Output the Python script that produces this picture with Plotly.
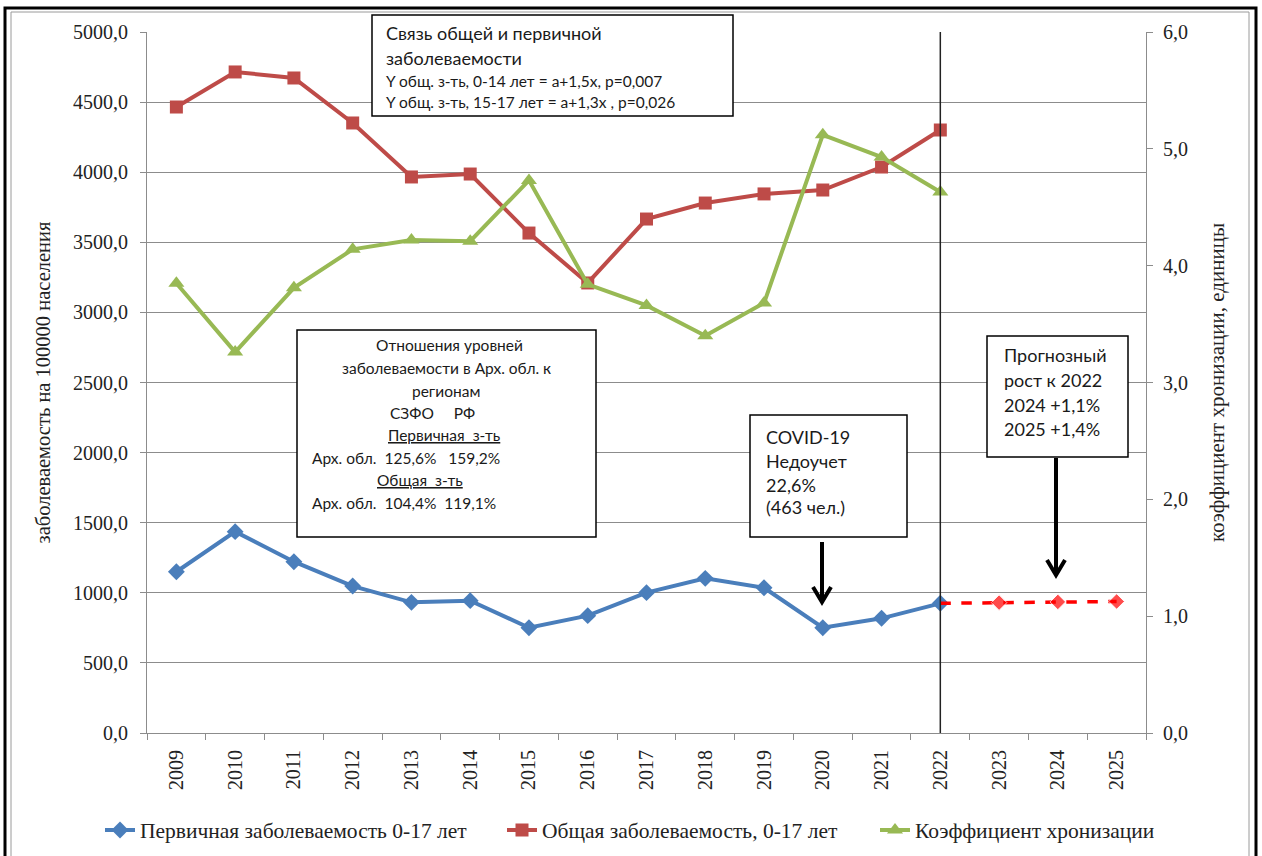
import plotly.graph_objects as go

# ---------------- data ----------------
years = [str(y) for y in range(2009, 2026)]
obs_years = years[:14]                       # 2009..2022
primary = [1150, 1436, 1222, 1048, 932, 944, 751, 837, 1001, 1103, 1036, 751, 818, 925]
general = [4465, 4715, 4672, 4351, 3966, 3987, 3566, 3210, 3666, 3780, 3845, 3873, 4037, 4301]
chron = [3.85, 3.26, 3.81, 4.14, 4.22, 4.21, 4.73, 3.84, 3.66, 3.40, 3.68, 5.12, 4.93, 4.63]
fc_years = ["2022", "2023", "2024", "2025"]
forecast = [925, 930, 935, 938]

name_primary = "Первичная заболеваемость 0-17 лет"
name_general = "Общая заболеваемость, 0-17 лет"
name_chron = "Коэффициент хронизации"

# ---------------- layout helpers ----------------
W, H = 1262, 856
L, R, T, B = 147, 1146, 32, 733


def PX(x):
    return (x - L) / (R - L)


def PY(y):
    return (B - y) / (B - T)


SERIF = "Liberation Serif"
SANS = "Lato"
GRID = "#8c8c8c"

fig = go.Figure()
fig.add_trace(go.Scatter(
    x=obs_years, y=primary, name=name_primary, mode="lines+markers", legend="legend",
    line=dict(color="#4A7EBB", width=4),
    marker=dict(symbol="diamond", size=13, color="#4A7EBB")))
fig.add_trace(go.Scatter(
    x=obs_years, y=general, name=name_general, mode="lines+markers", legend="legend2",
    line=dict(color="#BE4B48", width=4),
    marker=dict(symbol="square", size=13, color="#BE4B48")))
fig.add_trace(go.Scatter(
    x=obs_years, y=chron, name=name_chron, mode="lines+markers", yaxis="y2", legend="legend3",
    line=dict(color="#98B954", width=4),
    marker=dict(symbol="triangle-up", size=14, color="#98B954")))
fig.add_trace(go.Scatter(
    x=fc_years, y=forecast, mode="lines+markers", showlegend=False,
    line=dict(color="#FF0000", width=3.5, dash="dash"),
    marker=dict(symbol="diamond", size=[0, 12, 12, 12], color="#FF0000")))

shapes = []
# vertical separator at 2022
shapes.append(dict(type="line", xref="x", yref="paper",
                   x0=years.index("2022"), x1=years.index("2022"), y0=0, y1=1,
                   line=dict(color="#222222", width=1.5)))
# frame
shapes.append(dict(type="rect", xref="paper", yref="paper",
                   x0=PX(11), x1=PX(1249), y0=PY(866), y1=PY(12),
                   line=dict(color="#9a9a9a", width=1)))
shapes.append(dict(type="rect", xref="paper", yref="paper",
                   x0=PX(5), x1=PX(1256), y0=PY(880), y1=PY(8),
                   line=dict(color="#000000", width=3)))

# annotation boxes
boxes = [(372, 15, 733, 116), (297, 330, 596, 537), (750, 415, 907, 537), (987, 336, 1128, 457)]
for x0, y0, x1, y1 in boxes:
    shapes.append(dict(type="rect", xref="paper", yref="paper", layer="above",
                       x0=PX(x0), x1=PX(x1), y0=PY(y1), y1=PY(y0),
                       fillcolor="white", line=dict(color="#000000", width=1.5)))


def arrow(x, ytop, ytip):
    return dict(type="path", xref="paper", yref="paper", layer="above",
                path=(f"M {PX(x)},{PY(ytop)} L {PX(x)},{PY(ytip)} "
                      f"M {PX(x-9)},{PY(ytip-15)} L {PX(x)},{PY(ytip)} L {PX(x+9)},{PY(ytip-15)}"),
                line=dict(color="#000000", width=4))


shapes.append(arrow(822, 542, 602))
shapes.append(arrow(1056, 458, 575))

ann = []


def txt(text, x, y, size, anchor="left"):
    ann.append(dict(xref="paper", yref="paper", x=PX(x), y=PY(y), text=text,
                    xanchor=anchor, yanchor="middle", showarrow=False,
                    font=dict(family=SANS, size=size, color="#1a1a1a")))


# top box
txt("Связь общей и первичной", 384, 33, 18)
txt("заболеваемости", 384, 58, 18)
txt("Y общ. з-ть, 0-14 лет = a+1,5x, p=0,007", 384, 81, 15.5)
txt("Y общ. з-ть, 15-17 лет = a+1,3x , p=0,026", 384, 102, 15.5)
# middle box
txt("Отношения уровней", 449, 345, 15.5, "center")
txt("заболеваемости в Арх. обл. к", 446, 368, 15.5, "center")
txt("регионам", 446, 391, 15.5, "center")
txt("СЗФО&nbsp;&nbsp;&nbsp;&nbsp;&nbsp;РФ", 432, 413, 15.5, "center")
txt("<u>Первичная&nbsp;&nbsp;з-ть</u>", 444, 435, 15.5, "center")
txt("Арх. обл.&nbsp;&nbsp;125,6%&nbsp;&nbsp;&nbsp;159,2%", 310, 458, 15.5)
txt("<u>Общая&nbsp;&nbsp;з-ть</u>", 420, 480, 15.5, "center")
txt("Арх. обл.&nbsp;&nbsp;104,4%&nbsp;&nbsp;119,1%", 310, 503, 15.5)
# covid box
txt("COVID-19", 764, 437, 18)
txt("Недоучет", 764, 461, 18)
txt("22,6%", 764, 485, 18)
txt("(463 чел.)", 764, 507, 18)
# forecast box
txt("Прогнозный", 1002, 355, 18)
txt("рост к 2022", 1002, 380, 18)
txt("2024 +1,1%", 1002, 405, 18)
txt("2025 +1,4%", 1002, 429, 18)


def legend_at(xpix):
    return dict(orientation="h", xref="container", yref="container",
                x=xpix / W, y=1 - 830 / H, xanchor="left", yanchor="middle",
                font=dict(family=SERIF, size=21.5, color="#222222"),
                itemwidth=30, bgcolor="rgba(0,0,0,0)")


fig.update_layout(
    width=W, height=H,
    margin=dict(l=L, r=W - R, t=T, b=H - B),
    paper_bgcolor="white", plot_bgcolor="white",
    separators=", ",
    font=dict(family=SERIF, size=20, color="#222222"),
    showlegend=True,
    legend=legend_at(100),
    legend2=legend_at(502),
    legend3=legend_at(875),
    xaxis=dict(type="category", categoryorder="array", categoryarray=years,
               range=[-0.5, len(years) - 0.5], tickangle=-90,
               showline=True, linecolor=GRID, linewidth=1,
               ticks="outside", tickson="boundaries", ticklen=6, tickcolor=GRID,
               ticklabelstandoff=8,
               showgrid=False, tickfont=dict(family=SERIF, size=20)),
    yaxis=dict(range=[0, 5000], dtick=500, tickformat=".1f",
               showgrid=True, gridcolor=GRID, gridwidth=1, zeroline=False,
               showline=True, linecolor=GRID, ticks="outside", ticklen=6, tickcolor=GRID,
               ticklabelstandoff=8,
               tickfont=dict(family=SERIF, size=20),
               title=dict(text="заболеваемость на 100000 населения",
                          font=dict(family=SERIF, size=20.5), standoff=16)),
    yaxis2=dict(range=[0, 6], dtick=1, tickformat=".1f", overlaying="y", side="right",
                showgrid=False, zeroline=False,
                showline=True, linecolor=GRID, ticks="outside", ticklen=6, tickcolor=GRID,
                ticklabelstandoff=6,
                tickfont=dict(family=SERIF, size=20),
                title=dict(text="коэффициент хронизации, единицы",
                           font=dict(family=SERIF, size=21), standoff=22)),
    shapes=shapes, annotations=ann,
)

fig.write_html("out.html")
